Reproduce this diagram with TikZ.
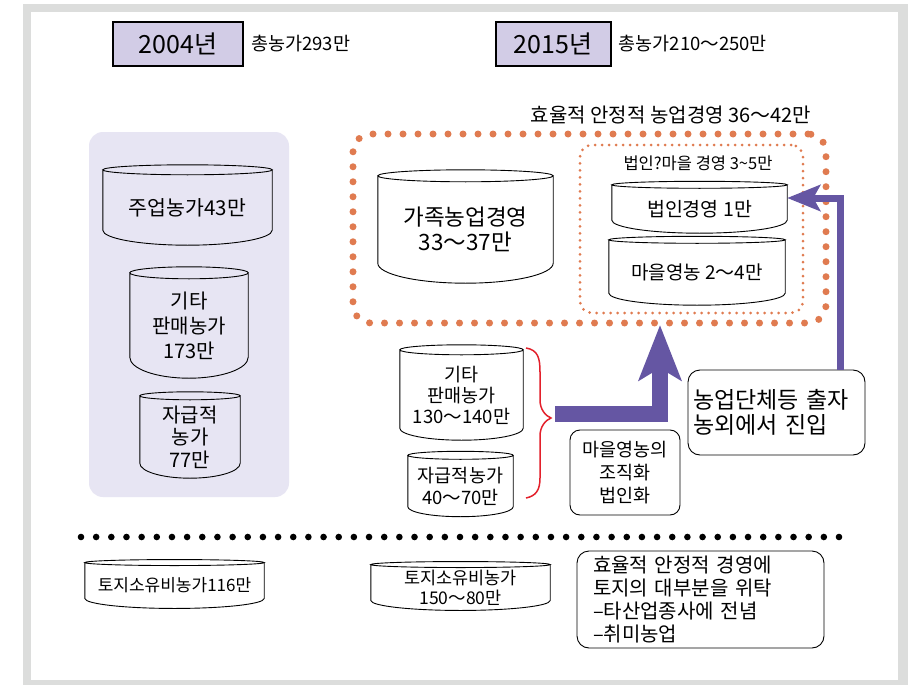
\documentclass[tikz,border=0pt]{standalone}
\usepackage{fontspec}
\setmainfont{Noto Sans CJK KR}
\usepackage{tikz}
\usetikzlibrary{arrows.meta,calc,positioning}
\definecolor{framegrey}{HTML}{DCDDDC}
\definecolor{yearfill}{HTML}{D2CCE6}
\definecolor{panelfill}{HTML}{E7E5F3}
\definecolor{dotorange}{HTML}{E07B50}
\definecolor{arrowpurple}{HTML}{6556A3}
\definecolor{bracered}{HTML}{E3202B}
\newcommand\fs[2]{\fontsize{#1}{#2}\selectfont}
\tikzset{
  txt/.style = {inner sep=0pt, align=center},% texte simple
  yr_box/.style = {draw, line width=2pt, fill=yearfill, inner sep=0pt,
    font=\fs{25}{30}},% annee
  drum/.style = {inner sep=0pt, align=center},% cylindre, contour trace apres
  drum_line/.style = {draw=black, line width=0.9pt},
  round_box/.style = {draw, line width=0.9pt, rounded corners=12pt,
    inner sep=0pt},
  dot_big/.style = {draw=dotorange, rounded corners=18pt, line width=7pt,
    line cap=round, dash pattern=on 0pt off 15pt},
  dot_small/.style = {draw=dotorange, rounded corners=12pt, line width=3pt,
    line cap=round, dash pattern=on 0pt off 7pt},
  dot_black/.style = {draw=black, line width=6.6pt, line cap=round,
    dash pattern=on 0pt off 15.16pt},
  fat_arrow/.style = {draw=arrowpurple, line width=16pt,
    -{Stealth[length=55pt, width=42pt, inset=12pt]}},
  thin_arrow/.style = {draw=arrowpurple, line width=7pt,
    -{Stealth[length=33pt, width=26pt, inset=7pt]}},
  brace_red/.style = {draw=bracered, line width=1.5pt}
}
\begin{document}
\begin{tikzpicture}[x=1pt,y=-1pt]
  \useasboundingbox (0,0) rectangle (908,685);
  \fill[framegrey] (23,4) rectangle (908,685);
  \fill[white] (31,12) rectangle (898,680);

  % 2004
  \node [yr_box, minimum width=130pt, minimum height=44pt] (y04) at (178,44) {2004년};
  \node [txt, font=\fs{18.5}{22}, right=7pt of y04] (t04) {총농가293만};
  \node [fill=panelfill, rounded corners=14pt, minimum width=200pt,
    minimum height=365pt] (panel04) at (189,314.5) {};
  \node [drum, font=\fs{20.5}{24}, minimum width=169pt, minimum height=75pt]
    (main04) at (187.5,207.5) {주업농가43만};
  \node [drum, font=\fs{20}{25}, minimum width=118pt, minimum height=105pt]
    (sale04) at (189,325.5) {기타\\판매농가\\173만};
  \node [drum, font=\fs{20}{22.5}, minimum width=100pt, minimum height=82pt]
    (self04) at (190,437) {자급적\\농가\\77만};

  % 2015
  \node [yr_box, minimum width=115pt, minimum height=44pt] (y15) at (553,44) {2015년};
  \node [txt, font=\fs{18.5}{22}, right=7pt of y15] (t15) {총농가210～250만};
  \node [txt, font=\fs{20}{22}] (efflbl) at (671,115) {효율적 안정적 농업경영 36～42만};
  \node [dot_big, minimum width=473pt, minimum height=189pt] (eff15) at (589.5,228.5) {};
  \node [dot_small, minimum width=223pt, minimum height=168pt] (corpbox) at (691.5,229) {};
  \node [txt, font=\fs{16.5}{18}] (corplbl) at (698,163) {법인?마을 경영 3\textasciitilde5만};
  \node [drum, font=\fs{22.5}{25}, minimum width=175pt, minimum height=107pt]
    (fam15) at (465.5,229.5) {가족농업경영\\33～37만};
  \node [drum, font=\fs{19.5}{23}, minimum width=175pt, minimum height=48pt]
    (corp15) at (699.5,209) {법인경영 1만};
  \node [drum, font=\fs{19}{23}, minimum width=176pt, minimum height=65pt]
    (vill15) at (697,272.5) {마을영농 2～4만};
  \node [drum, font=\fs{18.5}{21}, minimum width=123pt, minimum height=90pt]
    (sale15) at (461.5,395) {기타\\판매농가\\130～140만};
  \node [drum, font=\fs{18.5}{22}, minimum width=105pt, minimum height=61pt]
    (self15) at (460.5,486) {자급적농가\\40～70만};
  \node [round_box, rounded corners=10pt, minimum width=110pt, minimum height=85pt,
    align=center, font=\fs{18.5}{23}] (org15) at (625,472.5) {마을영농의\\조직화\\법인화};
  \node [round_box, minimum width=177pt, minimum height=85pt, text width=167pt,
    align=left, font=\fs{23}{25}] (entry) at (776.5,412.5) {농업단체등 출자\\농외에서 진입};

  % bas
  \coordinate (sepL) at (81,537);
  \coordinate (sepR) at (839,537);
  \draw [dot_black] (sepL) -- (sepR);
  \node [drum, font=\fs{17}{20}, minimum width=179pt, minimum height=45.5pt]
    (land04) at (174.5,585.5) {토지소유비농가116만};
  \node [drum, font=\fs{17.5}{20}, minimum width=179pt, minimum height=45.5pt]
    (land15) at (460.5,587.5) {토지소유비농가\\150～80만};
  \node [round_box, minimum width=247pt, minimum height=97pt, text width=215pt,
    align=left, font=\fs{20}{23.3}] (rest15) at (700.5,599.5)
    {효율적 안정적 경영에\\토지의 대부분을 위탁\\–타산업종사에 전념\\–취미농업};

  % contours des cylindres
  \foreach \dr/\rt/\rb in {main04/5/15, sale04/6/21, self04/4/15, fam15/6/20,
      corp15/3.5/13, vill15/3.5/12, sale15/5/12, self15/4/10, land04/3/10, land15/3/10}
    \draw [drum_line] let \p1=(\dr.north west), \p2=(\dr.south east),
        \n1={(\x2-\x1)/2} in
      (\p1) -- (\x1,{\y2+\rb*1pt})
        arc [start angle=180, end angle=360, x radius=\n1*1pt, y radius=\rb*1pt]
        -- (\x2,\y1)
      (\dr.north) ellipse [x radius=\n1*1pt, y radius=\rt*1pt];

  % accolade et fleches
  \draw [brace_red] (526,348) .. controls (538,350) and (540,358) .. (540,372)
    -- (540,400) .. controls (540,410) and (546,416) .. (551,418)
    .. controls (546,420) and (540,426) .. (540,436)
    -- (540,478) .. controls (540,490) and (536,496) .. (526,498);
  \coordinate (bracetip) at (555,414);
  \coordinate (uptip) at (660,325);
  \draw [fat_arrow] (bracetip) -| (uptip);
  \draw [thin_arrow] ([xshift=63.5pt]entry.north) |- ([yshift=11pt]corp15.east);
\end{tikzpicture}
\end{document}
